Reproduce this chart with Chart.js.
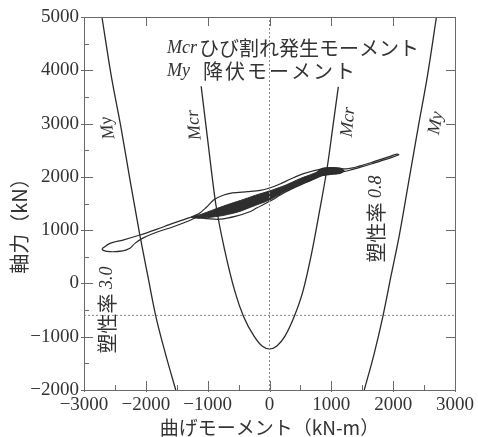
<!DOCTYPE html>
<html>
<head>
<meta charset="utf-8">
<script src="https://cdn.jsdelivr.net/npm/chart.js@4.4.1/dist/chart.umd.min.js"></script>
<style>
  html, body { margin: 0; padding: 0; background: #fff; }
</style>
</head>
<body>
<canvas id="chart" width="478" height="437"></canvas>
<script>
/* Axial force vs bending moment: Mcr / My curves and hysteresis loop */

const momentTicks = [-3000, -2000, -1000, 0, 1000, 2000, 3000];
const axialTicks = [-2000, -1000, 0, 1000, 2000, 3000, 4000, 5000];

// cracking moment curve Mcr
const mcrX = [-1105, -990, -870, -720, -560, -420, -250, -120, 0, 120, 250, 403, 540, 680, 800, 935, 1020, 1113];
const mcrY = [3700, 2600, 1500, 600, -150, -620, -990, -1175, -1230, -1175, -990, -612, -150, 560, 1300, 2190, 2900, 3690];

// yield moment curve My (two branches)
const myLeftX = [-2710, -2560, -2403, -2250, -2097, -1968, -1839, -1680, -1516];
const myLeftY = [5000, 3900, 2934, 1900, 908, 140, -612, -1330, -2000];
const myRightX = [1532, 1690, 1835, 1965, 2100, 2250, 2405, 2555, 2700];
const myRightY = [-2000, -1330, -612, 140, 908, 1900, 2934, 3900, 5000];

// thin outer hysteresis path
const loopX = [-2710, -2581, -2371, -2097, -1828, -1565, -1290, -1140, -1020, -900, -750, -600, -350, -150, 0, 160, 350, 550, 850, 1050, 1250,
  1450, 1700, 1950, 2060, 2090, 1980, 1700, 1450, 1250, 1100,
  850, 600, 350, 160, 50, -210, -320, -540, -800, -1000, -1180,
  -1290, -1565, -1828, -2048, -2177, -2258, -2371, -2581, -2690, -2710];
const loopY = [650, 752, 814, 908, 1015, 1127, 1235, 1310, 1430, 1570, 1655, 1700, 1722, 1745, 1790, 1860, 1965, 2060, 2150, 2170, 2150,
  2200, 2290, 2385, 2425, 2415, 2365, 2262, 2172, 2110, 2075,
  2030, 1900, 1770, 1650, 1570, 1414, 1345, 1262, 1205, 1215, 1240,
  1180, 1060, 960, 850, 752, 660, 610, 595, 620, 650];

// dense band of repeated cycles (outline)
const bandX = [-1270, -1100, -900, -700, -450, -200, 0, 250, 500, 750, 850, 1000, 1150, 1210,
  1150, 1000, 850, 700, 500, 250, 0, -250, -500, -750, -1000, -1150, -1270];
const bandY = [1240, 1300, 1385, 1470, 1565, 1665, 1735, 1840, 1970, 2080, 2160, 2175, 2160, 2115,
  2065, 2045, 2020, 1945, 1855, 1725, 1565, 1455, 1345, 1275, 1235, 1222, 1240];

// small gaps inside the band
const holeX = [-1020, -690];
const holeY = [1282, 1380];

// dotted guide lines
const guideZeroX = 0;
const guideAxialY = -600;

const pts = (xs, ys) => xs.map((x, i) => ({ x: x, y: ys[i] }));
const ink = '#2b2b2b';

function drawRuns(ctx, parts, px, py, deg) {
  ctx.save();
  ctx.translate(px, py);
  ctx.rotate(deg * Math.PI / 180);
  ctx.textBaseline = 'middle';
  ctx.textAlign = 'left';
  let total = 0;
  parts.forEach(p => { ctx.font = p[1]; total += ctx.measureText(p[0]).width; });
  let cx = -total / 2;
  parts.forEach(p => {
    ctx.font = p[1];
    ctx.fillText(p[0], cx, 0);
    cx += ctx.measureText(p[0]).width;
  });
  ctx.restore();
}

const serifIt = "italic 18px 'Liberation Serif', serif";
const cjk = "20px 'Noto Sans CJK JP', sans-serif";

const framePlugin = {
  id: 'framePlugin',
  afterDraw(chart) {
    const { ctx, chartArea: a, scales: { x, y } } = chart;
    ctx.save();
    ctx.strokeStyle = '#6a6a6a';
    ctx.lineWidth = 1;
    ctx.strokeRect(Math.round(a.left) + 0.5, Math.round(a.top) + 0.5,
      Math.round(a.right - a.left), Math.round(a.bottom - a.top));

    ctx.beginPath();
    momentTicks.forEach((v, i) => {
      const px = Math.round(x.getPixelForValue(v)) + 0.5;
      ctx.moveTo(px, a.bottom + 2); ctx.lineTo(px, a.bottom - 9);
      ctx.moveTo(px, a.top); ctx.lineTo(px, a.top + 9);
      if (i < momentTicks.length - 1) {
        const m = Math.round(x.getPixelForValue((v + momentTicks[i + 1]) / 2)) + 0.5;
        ctx.moveTo(m, a.bottom); ctx.lineTo(m, a.bottom - 5);
      }
    });
    axialTicks.forEach((v, i) => {
      const py = Math.round(y.getPixelForValue(v)) + 0.5;
      ctx.moveTo(a.left - 3, py); ctx.lineTo(a.left + 9, py);
      ctx.moveTo(a.right, py); ctx.lineTo(a.right - 9, py);
      if (i < axialTicks.length - 1) {
        const m = Math.round(y.getPixelForValue((v + axialTicks[i + 1]) / 2)) + 0.5;
        ctx.moveTo(a.left, m); ctx.lineTo(a.left + 5, m);
      }
    });
    ctx.stroke();

    ctx.fillStyle = '#333';
    // y axis title
    drawRuns(ctx, [['軸力（kN）', cjk]], 19, 221, -90);

    // legend text
    ctx.textBaseline = 'middle';
    ctx.textAlign = 'left';
    ctx.font = "italic 18px 'Liberation Serif', serif";
    ctx.fillText('Mcr', 167, 48);
    ctx.fillText('My', 167, 71);
    ctx.font = cjk;
    ctx.fillText('ひび割れ発生モーメント', 199, 48);
    ctx.letterSpacing = '2px';
    ctx.fillText('降伏モーメント', 203, 71);
    ctx.letterSpacing = '0px';

    // curve labels
    const at = (vx, vy) => [x.getPixelForValue(vx), y.getPixelForValue(vy)];
    let p = at(-2613, 2916); drawRuns(ctx, [['My', serifIt]], p[0], p[1], -100);
    p = at(-1215, 2972); drawRuns(ctx, [['Mcr', serifIt]], p[0], p[1], -96);
    p = at(1274, 3028); drawRuns(ctx, [['Mcr', serifIt]], p[0], p[1], -84);
    p = at(2694, 3008); drawRuns(ctx, [['My', serifIt]], p[0], p[1], -80);
    p = at(-2629, -499); drawRuns(ctx, [['塑性率 ', cjk], ['3.0', serifIt]], p[0], p[1], -90);
    p = at(1726, 1208); drawRuns(ctx, [['塑性率 ', cjk], ['0.8', serifIt]], p[0], p[1], -90);
    ctx.restore();
  }
};

const lineSet = (data, extra) => Object.assign({
  data: data,
  showLine: true,
  borderColor: ink,
  borderWidth: 1.3,
  pointRadius: 0,
  fill: false
}, extra || {});

new Chart(document.getElementById('chart'), {
  type: 'scatter',
  data: {
    datasets: [
      lineSet([{ x: guideZeroX, y: axialTicks[0] }, { x: guideZeroX, y: axialTicks[axialTicks.length - 1] }],
        { borderColor: '#8a8a8a', borderWidth: 1, borderDash: [2, 2] }),
      lineSet([{ x: momentTicks[0], y: guideAxialY }, { x: momentTicks[momentTicks.length - 1], y: guideAxialY }],
        { borderColor: '#8a8a8a', borderWidth: 1, borderDash: [2, 2] }),
      lineSet(pts(mcrX, mcrY), { cubicInterpolationMode: 'monotone' }),
      lineSet(pts(myLeftX, myLeftY), { cubicInterpolationMode: 'monotone' }),
      lineSet(pts(myRightX, myRightY), { cubicInterpolationMode: 'monotone' }),
      lineSet(pts(loopX, loopY), { tension: 0.3, borderWidth: 1.2 }),
      lineSet(pts(bandX, bandY), { tension: 0.2, borderWidth: 1, fill: 'shape', backgroundColor: '#2e2e2e' }),
      { data: pts(holeX, holeY), pointRadius: 1.8, pointBorderWidth: 0, pointBackgroundColor: '#ffffff', showLine: false }
    ]
  },
  options: {
    responsive: false,
    animation: false,
    devicePixelRatio: 1,
    layout: { padding: { top: 17, right: 22, left: 0, bottom: 0 } },
    plugins: { legend: { display: false }, tooltip: { enabled: false } },
    scales: {
      x: {
        type: 'linear',
        min: momentTicks[0],
        max: momentTicks[momentTicks.length - 1],
        afterFit: s => { s.height = 47; },
        afterBuildTicks: s => { s.ticks = momentTicks.map(v => ({ value: v })); },
        grid: { display: false, drawTicks: false },
        border: { display: false },
        ticks: {
          padding: 4,
          color: '#333',
          font: { family: "'Liberation Serif', serif", size: 19 },
          callback: v => String(v).replace('-', '\u2212')
        },
        title: {
          display: true,
          text: '曲げモーメント（kN-m）',
          color: '#333',
          padding: { top: 0, bottom: 0 },
          font: { family: "'Noto Sans CJK JP', sans-serif", size: 19, lineHeight: 1 }
        }
      },
      y: {
        type: 'linear',
        min: axialTicks[0],
        max: axialTicks[axialTicks.length - 1],
        afterFit: s => { s.width = 84; },
        afterBuildTicks: s => { s.ticks = axialTicks.map(v => ({ value: v })); },
        grid: { display: false, drawTicks: false },
        border: { display: false },
        ticks: {
          padding: 5,
          color: '#333',
          font: { family: "'Liberation Serif', serif", size: 19 },
          callback: v => String(v).replace('-', '\u2212')
        }
      }
    }
  },
  plugins: [framePlugin]
});
</script>
</body>
</html>
